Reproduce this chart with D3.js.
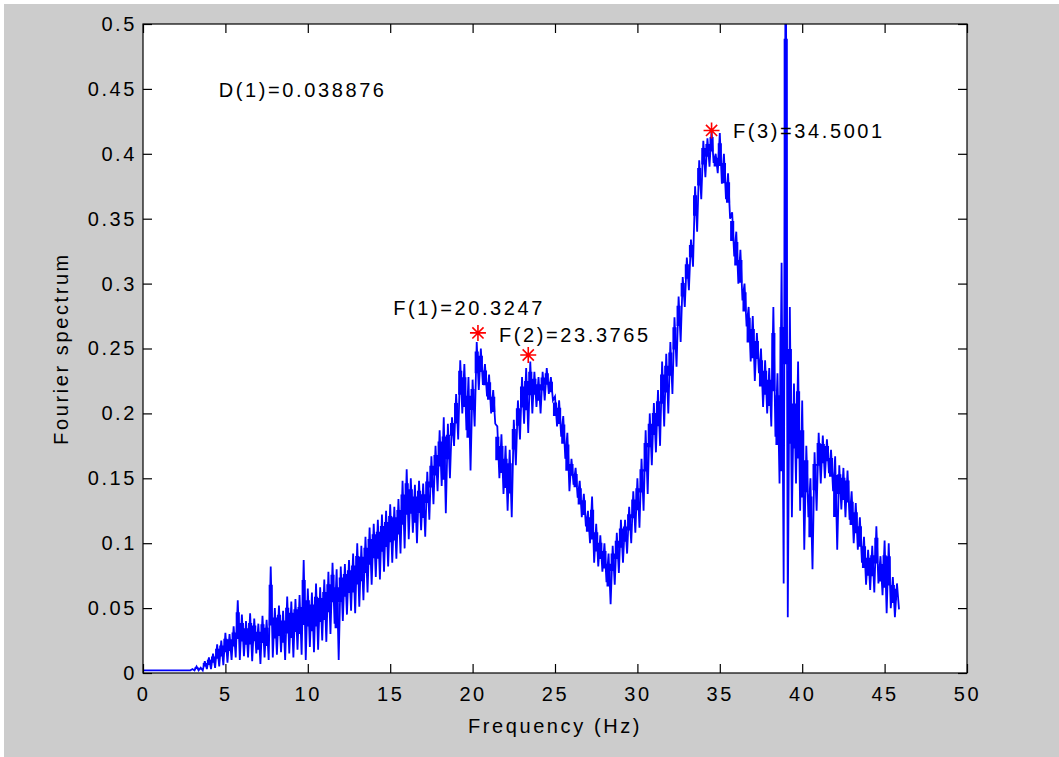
<!DOCTYPE html>
<html lang="en">
  <head>
    <meta charset="UTF-8" />
    <title>Fourier spectrum</title>
    <script src="https://d3js.org/d3.v7.min.js"></script>
    <style>
      body { margin: 0; background: #fff; }
      svg text {
        font-family: "Liberation Sans", Arial, sans-serif;
        font-size: 20px;
        letter-spacing: 2.6px;
        fill: #000;
      }
    </style>
  </head>
  <body>
    <svg width="1059" height="757"></svg>

    <script>
      // spectrum: upper and lower edge of the trace, every 0.25 Hz from 0 Hz
      const freqStep = 0.25;
      const upperVals = [
        0.002, 0.002, 0.002, 0.002, 0.002, 0.002, 0.002, 0.002, 0.002, 0.002, 0.002, 0.002,
        0.003, 0.005, 0.004, 0.009, 0.012, 0.015, 0.022, 0.025, // 3 - 4.75
        0.031, 0.030, 0.036, 0.056, 0.045, 0.040, 0.046, 0.042, // 5 - 6.75
        0.038, 0.044, 0.041, 0.082, 0.050, 0.052, 0.048, 0.059, // 7 - 8.75
        0.055, 0.057, 0.060, 0.087, 0.065, 0.062, 0.069, 0.066, // 9 - 10.75
        0.072, 0.078, 0.085, 0.080, 0.082, 0.084, 0.087, 0.092, // 11 - 12.75
        0.100, 0.098, 0.105, 0.112, 0.115, 0.118, 0.122, 0.125, // 13 - 14.75
        0.130, 0.128, 0.134, 0.148, 0.157, 0.150, 0.145, 0.148, // 15 - 16.75
        0.146, 0.155, 0.167, 0.175, 0.187, 0.197, 0.192, 0.197, // 17 - 18.75
        0.215, 0.241, 0.238, 0.228, 0.226, 0.255, 0.250, 0.238, // 19 - 20.75
        0.230, 0.218, 0.190, 0.184, 0.175, 0.172, 0.195, 0.210, // 21 - 22.75
        0.228, 0.235, 0.240, 0.232, 0.228, 0.232, 0.235, 0.228, // 23 - 24.75
        0.213, 0.210, 0.198, 0.185, 0.165, 0.158, 0.148, 0.138, // 25 - 26.75
        0.125, 0.136, 0.115, 0.106, 0.100, 0.092, 0.098, 0.108, // 27 - 28.75
        0.118, 0.118, 0.128, 0.140, 0.150, 0.165, 0.187, 0.200, // 29 - 30.75
        0.208, 0.218, 0.240, 0.246, 0.255, 0.274, 0.290, 0.305, // 31 - 32.75
        0.320, 0.334, 0.375, 0.395, 0.410, 0.412, 0.418, 0.400, // 33 - 34.75
        0.416, 0.400, 0.385, 0.355, 0.340, 0.326, 0.300, 0.282, // 35 - 36.75
        0.275, 0.262, 0.250, 0.241, 0.235, 0.282, 0.231, 0.316, // 37 - 38.75
        0.600, 0.282, 0.223, 0.240, 0.210, 0.175, 0.150, 0.170, // 39 - 40.75
        0.185, 0.183, 0.180, 0.172, 0.167, 0.160, 0.158, 0.156, // 41 - 42.75
        0.140, 0.131, 0.120, 0.105, 0.095, 0.098, 0.113, 0.090, // 43 - 44.75
        0.102, 0.100, 0.074, 0.069                              // 45 - 45.75
      ];
      const lowerVals = [
        0.002, 0.002, 0.002, 0.002, 0.002, 0.002, 0.002, 0.002, 0.002, 0.002, 0.002, 0.002,
        0.002, 0.002, 0.002, 0.003, 0.003, 0.004, 0.005, 0.006,
        0.008, 0.010, 0.012, 0.010, 0.013, 0.012, 0.009, 0.015,
        0.007, 0.012, 0.010, 0.012, 0.014, 0.016, 0.010, 0.015,
        0.012, 0.018, 0.014, 0.010, 0.020, 0.016, 0.018, 0.025,
        0.024, 0.030, 0.038, 0.010, 0.040, 0.045, 0.048, 0.046,
        0.051, 0.056, 0.062, 0.068, 0.074, 0.072, 0.078, 0.082,
        0.085, 0.088, 0.092, 0.096, 0.103, 0.108, 0.100, 0.110,
        0.105, 0.118, 0.130, 0.140, 0.144, 0.123, 0.150, 0.175,
        0.180, 0.200, 0.187, 0.156, 0.190, 0.218, 0.222, 0.213,
        0.200, 0.192, 0.150, 0.138, 0.125, 0.120, 0.160, 0.180,
        0.192, 0.185, 0.200, 0.205, 0.200, 0.210, 0.215, 0.210,
        0.190, 0.182, 0.165, 0.140, 0.145, 0.135, 0.120, 0.113,
        0.100, 0.085, 0.082, 0.078, 0.070, 0.053, 0.068, 0.077,
        0.085, 0.092, 0.100, 0.108, 0.112, 0.125, 0.138, 0.160,
        0.170, 0.175, 0.190, 0.200, 0.215, 0.236, 0.255, 0.282,
        0.295, 0.313, 0.340, 0.365, 0.382, 0.390, 0.393, 0.385,
        0.377, 0.365, 0.350, 0.321, 0.300, 0.287, 0.267, 0.240,
        0.225, 0.231, 0.205, 0.200, 0.190, 0.182, 0.146, 0.069,
        0.043, 0.120, 0.146, 0.125, 0.095, 0.120, 0.080, 0.125,
        0.146, 0.150, 0.154, 0.140, 0.095, 0.126, 0.120, 0.118,
        0.100, 0.095, 0.085, 0.068, 0.064, 0.062, 0.069, 0.060,
        0.046, 0.050, 0.043, 0.049
      ];

      // picked peaks
      const peakLabels = ["F(1)=20.3247", "F(2)=23.3765", "F(3)=34.5001"];
      const peakFreqs = [20.3247, 23.3765, 34.5001];
      const peakVals = [0.262, 0.245, 0.418];
      const dampingLabel = "D(1)=0.038876";

      const xTicks = d3.range(0, 51, 5);
      const yTicks = d3.range(0, 11).map((i) => i * 0.05);

      const svg = d3.select("svg");
      const width = +svg.attr("width");
      const height = +svg.attr("height");

      // grey figure background
      svg.append("rect")
        .attr("x", 4).attr("y", 4)
        .attr("width", width - 4).attr("height", height - 4)
        .attr("fill", "#cccccc");

      const plotL = 143, plotR = 967, plotT = 24, plotB = 673;
      const x = d3.scaleLinear().domain([0, 50]).range([plotL, plotR]);
      const y = d3.scaleLinear().domain([0, 0.5]).range([plotB, plotT]);

      svg.append("rect")
        .attr("x", plotL).attr("y", plotT)
        .attr("width", plotR - plotL).attr("height", plotB - plotT)
        .attr("fill", "#fff");

      svg.append("clipPath").attr("id", "plotClip")
        .append("rect")
        .attr("x", plotL).attr("y", plotT)
        .attr("width", plotR - plotL).attr("height", plotB - plotT);

      const plot = svg.append("g").attr("clip-path", "url(#plotClip)");

      // solid body of the trace between the two edges
      const band = upperVals.map((v, i) => ({ f: i * freqStep, hi: v, lo: lowerVals[i] }));
      const area = d3.area()
        .curve(d3.curveStep)
        .x((d) => x(d.f))
        .y0((d) => y(Math.min(d.hi, d.lo + (d.hi - d.lo) * 0.35)))
        .y1((d) => y(Math.min(d.hi, d.lo + (d.hi - d.lo) * 0.8)));

      plot.append("path")
        .datum(band)
        .attr("d", area)
        .attr("fill", "#0000ff");

      // zig-zag between upper and lower edge, like the raw trace
      const points = [];
      band.forEach((d) => {
        points.push([d.f, d.hi]);
        points.push([d.f + freqStep / 2, d.lo]);
      });

      const line = d3.line()
        .x((d) => x(d[0]))
        .y((d) => y(d[1]));

      plot.append("path")
        .datum(points)
        .attr("d", line)
        .attr("fill", "none")
        .attr("stroke", "#0000ff")
        .attr("stroke-width", 1.8)
        .attr("stroke-linejoin", "miter");

      // axes, ticks pointing in on all four sides
      const fmt = (d) => String(+d.toFixed(2));
      svg.append("g")
        .attr("transform", `translate(0,${plotB})`)
        .call(d3.axisBottom(x).tickValues(xTicks).tickSize(-9).tickPadding(14));
      svg.append("g")
        .attr("transform", `translate(0,${plotT})`)
        .call(d3.axisTop(x).tickValues(xTicks).tickSize(-9).tickFormat(""));
      svg.append("g")
        .attr("transform", `translate(${plotL},0)`)
        .call(d3.axisLeft(y).tickValues(yTicks).tickSize(-9).tickPadding(6).tickFormat(fmt));
      svg.append("g")
        .attr("transform", `translate(${plotR},0)`)
        .call(d3.axisRight(y).tickValues(yTicks).tickSize(-9).tickFormat(""));

      svg.selectAll(".domain").remove();
      svg.selectAll(".tick line").attr("stroke", "#000").attr("stroke-width", 1.2);
      svg.selectAll("g text").attr("fill", "#000");
      svg.selectAll("g").attr("font-size", null).attr("font-family", null);

      svg.append("rect")
        .attr("x", plotL).attr("y", plotT)
        .attr("width", plotR - plotL).attr("height", plotB - plotT)
        .attr("fill", "none")
        .attr("stroke", "#000")
        .attr("stroke-width", 1.2);

      // peak markers
      svg.selectAll(".peak")
        .data(peakFreqs)
        .join("path")
        .attr("class", "peak")
        .attr("transform", (d, i) => `translate(${x(d)},${y(peakVals[i])})`)
        .attr("d", "M-8,0H8M0,-8V8M-5.6,-5.6L5.6,5.6M-5.6,5.6L5.6,-5.6")
        .attr("fill", "none")
        .attr("stroke", "#ff0000")
        .attr("stroke-width", 1.6);

      const labelAt = [[15.18, 0.2758], [21.6, 0.255], [35.8, 0.4124]];
      svg.selectAll(".peak-label")
        .data(peakLabels)
        .join("text")
        .attr("class", "peak-label")
        .attr("x", (d, i) => x(labelAt[i][0]))
        .attr("y", (d, i) => y(labelAt[i][1]))
        .text((d) => d);

      svg.append("text")
        .attr("x", x(4.6))
        .attr("y", y(0.444))
        .text(dampingLabel);

      // axis titles
      svg.append("text")
        .attr("x", (plotL + plotR) / 2)
        .attr("y", 733)
        .attr("text-anchor", "middle")
        .text("Frequency (Hz)");

      svg.append("text")
        .attr("transform", `translate(68,${(plotT + plotB) / 2}) rotate(-90)`)
        .attr("text-anchor", "middle")
        .text("Fourier spectrum");
    </script>
  </body>
</html>
